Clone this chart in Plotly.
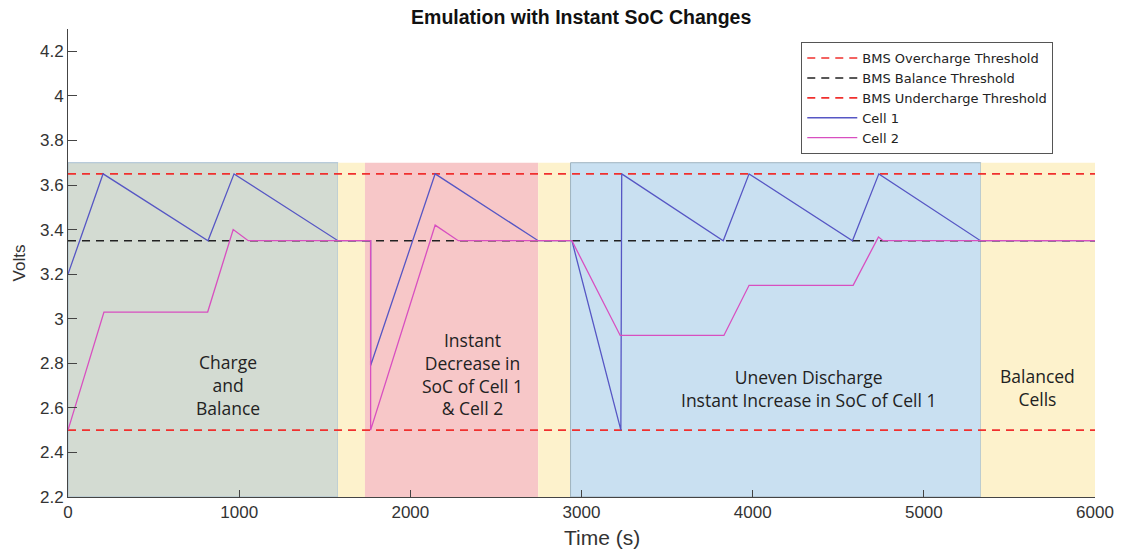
import plotly.graph_objects as go

# ---- data ----
cell1_t = [0, 205, 818, 970, 1577, 1768, 1768, 2145, 2747, 2944, 3230, 3235, 3828, 3979, 4583, 4737, 5331, 6000]
cell1_v = [3.2, 3.65, 3.35, 3.65, 3.35, 3.35, 2.79, 3.65, 3.35, 3.35, 2.5, 3.65, 3.35, 3.65, 3.35, 3.65, 3.35, 3.35]

cell2_t = [0, 210, 816, 965, 1053, 1768, 1768, 2145, 2280, 2944, 3226, 3832, 3979, 4587, 4735, 4762, 6000]
cell2_v = [2.5, 3.03, 3.03, 3.40, 3.35, 3.35, 2.5, 3.42, 3.35, 3.35, 2.925, 2.925, 3.15, 3.15, 3.367, 3.35, 3.35]

threshold_names = ["BMS Overcharge Threshold", "BMS Balance Threshold", "BMS Undercharge Threshold"]
threshold_values = [3.65, 3.35, 2.5]
threshold_colors = ["#f0302e", "#222222", "#f0302e"]
time_span = [0, 6000]

region_starts = [0, 1577, 1735, 2747, 2936, 5333]
region_ends = [1577, 1735, 2747, 2936, 5333, 6000]
region_colors = ["#d3dbd2", "#fdf2cc", "#f7c7c8", "#fdf2cc", "#c9e0f1", "#fdf2cc"]
region_lines = ["#a9c1d3", None, None, None, "#9fb3bf", None]
region_bottom = 2.2
region_top = 3.7

labels = ["Charge<br>and<br>Balance",
          "Instant<br>Decrease in<br>SoC of Cell 1<br>& Cell 2",
          "Uneven Discharge<br>Instant Increase in SoC of Cell 1",
          "Balanced<br>Cells"]
label_t = [935, 2363, 4329, 5666]
label_v = [2.703, 2.75, 2.688, 2.69]

x_ticks = [0, 1000, 2000, 3000, 4000, 5000, 6000]
y_ticks = [2.2, 2.4, 2.6, 2.8, 3.0, 3.2, 3.4, 3.6, 3.8, 4.0, 4.2]
y_tick_text = ["2.2", "2.4", "2.6", "2.8", "3", "3.2", "3.4", "3.6", "3.8", "4", "4.2"]

fig = go.Figure()

for name, val, col in zip(threshold_names, threshold_values, threshold_colors):
    fig.add_trace(go.Scatter(x=time_span, y=[val, val], mode="lines", name=name,
                             line=dict(color=col, width=1.6, dash="8px,6px")))

fig.add_trace(go.Scatter(x=cell1_t, y=cell1_v, mode="lines", name="Cell 1",
                         line=dict(color="#5656c4", width=1.3)))
fig.add_trace(go.Scatter(x=cell2_t, y=cell2_v, mode="lines", name="Cell 2",
                         line=dict(color="#d84fc0", width=1.3)))

for s, e, c, lc in zip(region_starts, region_ends, region_colors, region_lines):
    fig.add_shape(type="rect", xref="x", yref="y", x0=s, x1=e, y0=region_bottom, y1=region_top,
                  fillcolor=c, layer="below",
                  line=dict(color=lc if lc else c, width=1 if lc else 0))

for txt, t, v in zip(labels, label_t, label_v):
    fig.add_annotation(x=t, y=v, text=txt, showarrow=False, xref="x", yref="y",
                       font=dict(family="Open Sans", size=17.5, color="#222222"),
                       xanchor="center", yanchor="middle", align="center")

# x-axis title (sits slightly right of centre in the original)
fig.add_annotation(x=0.52, y=-0.0855, xref="paper", yref="paper", text="Time (s)",
                   showarrow=False, xanchor="center", yanchor="middle",
                   font=dict(family="Liberation Sans", size=21, color="#333333"))

fig.update_layout(
    width=1122, height=550,
    margin=dict(l=68, r=27, t=29, b=53),
    paper_bgcolor="white", plot_bgcolor="white",
    title=dict(text="<b>Emulation with Instant SoC Changes</b>", x=0.518, xanchor="center",
               y=1 - 17 / 550, yanchor="middle",
               font=dict(family="Liberation Sans", size=19.5, color="#111111")),
    font=dict(family="Liberation Sans", color="#333333"),
    legend=dict(x=0.714, y=0.972, xanchor="left", yanchor="top",
                bgcolor="white", bordercolor="#555555", borderwidth=1,
                font=dict(family="DejaVu Sans", size=13, color="#222222"),
                itemwidth=50, tracegroupgap=0),
    showlegend=True,
)

fig.update_xaxes(range=[0, 6000], tickvals=x_ticks, ticks="inside", ticklen=7,
                 tickcolor="#444444", showline=True, linecolor="#444444", linewidth=1,
                 showgrid=False, zeroline=False, automargin=False,
                 tickfont=dict(size=17, color="#333333"))
fig.update_yaxes(range=[2.2, 4.3], tickvals=y_ticks, ticktext=y_tick_text, ticks="inside",
                 ticklen=9, tickcolor="#444444", showline=True, linecolor="#444444", linewidth=1,
                 showgrid=False, zeroline=False, automargin=False,
                 tickfont=dict(size=17, color="#333333"),
                 title=dict(text="Volts", font=dict(size=17, color="#333333"), standoff=10))

fig.write_html("out.html")
